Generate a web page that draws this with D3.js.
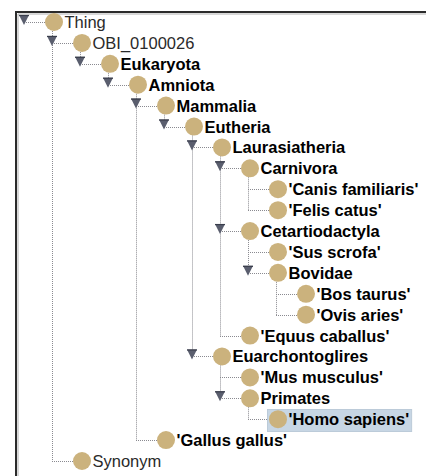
<!DOCTYPE html>
<html><head><meta charset="utf-8">
<script src="https://cdn.jsdelivr.net/npm/d3@7"></script>
<style>html,body{margin:0;padding:0;background:#fff;}svg{display:block;}</style>
</head><body>
<svg id="c" width="426" height="476"></svg>
<script>
const names = ["Thing","OBI_0100026","Eukaryota","Amniota","Mammalia","Eutheria","Laurasiatheria","Carnivora","'Canis familiaris'","'Felis catus'","Cetartiodactyla","'Sus scrofa'","Bovidae","'Bos taurus'","'Ovis aries'","'Equus caballus'","Euarchontoglires","'Mus musculus'","Primates","'Homo sapiens'","'Gallus gallus'","Synonym"];
const parents = ["","Thing","OBI_0100026","Eukaryota","Amniota","Mammalia","Eutheria","Laurasiatheria","Carnivora","Carnivora","Laurasiatheria","Cetartiodactyla","Cetartiodactyla","Bovidae","Bovidae","Laurasiatheria","Eutheria","Euarchontoglires","Euarchontoglires","Primates","Amniota","Thing"];
const regularNames = ["Thing","OBI_0100026","Synonym"];
const selectedName = "'Homo sapiens'";

const rows = names.map((n,i)=>({id:n, parent:parents[i]||null}));
const root = d3.stratify().id(d=>d.id).parentId(d=>d.parent)(rows);
const order = [];
root.eachBefore(d=>order.push(d));
order.forEach((d,i)=>d.row=i);

const y = d3.scaleLinear().domain([0, order.length-1]).range([22, 461]);
const x = d3.scaleLinear().domain([0, 8]).range([54, 278]);
const handleOff = 30, r = 9;

const svg = d3.select("#c");
// frame
svg.append("path").attr("d","M16,476V12H426").attr("fill","none").attr("stroke","#2b2b2b").attr("stroke-width",2);
svg.append("path").attr("d","M18,476V14H426").attr("fill","none").attr("stroke","#b0b0b0").attr("stroke-width",1);

const lines = svg.append("g").attr("stroke","#8a8a90").attr("stroke-width",1).attr("stroke-dasharray","1,1").attr("fill","none");
// vertical connectors
order.forEach(d=>{
  if(d.children){
    const last = d.children[d.children.length-1];
    const lx = Math.round(x(d.depth+1)-handleOff)+0.5;
    lines.append("line").attr("x1",lx).attr("x2",lx).attr("y1",y(d.row)+9).attr("y2",Math.round(y(last.row))+0.5);
  }
});
// horizontal connectors
order.forEach(d=>{
  const yy = Math.round(y(d.row))+0.5;
  lines.append("line").attr("x1",x(d.depth)-handleOff).attr("x2",x(d.depth)-r).attr("y1",yy).attr("y2",yy);
});

// selection highlight
const sel = order.find(d=>d.id===selectedName);
const hl = svg.append("rect").attr("fill","#c7d6e4").attr("stroke","#bccbd9");

// triangles
svg.append("g").selectAll("path").data(order.filter(d=>d.children)).join("path")
  .attr("d",d=>{const cx=x(d.depth)-handleOff, cy=y(d.row); return `M${cx-5},${cy-7}H${cx+5}L${cx},${cy+3}Z`;})
  .attr("fill","#5a5e6e");
svg.append("g").selectAll("line").data(order.filter(d=>d.children)).join("line")
  .attr("x1",d=>x(d.depth)-handleOff-5).attr("x2",d=>x(d.depth)-handleOff+5)
  .attr("y1",d=>y(d.row)-6.5).attr("y2",d=>y(d.row)-6.5).attr("stroke","#3a3e4c").attr("stroke-width",1.2);

// circles
svg.append("g").selectAll("circle").data(order).join("circle")
  .attr("cx",d=>x(d.depth)).attr("cy",d=>y(d.row)).attr("r",r).attr("fill","#cbb27d");

// labels
const texts = svg.append("g").selectAll("text").data(order).join("text")
  .attr("x",d=>x(d.depth)+r+1.5).attr("y",d=>y(d.row)+6)
  .attr("font-family","'Liberation Sans', Arial, sans-serif").attr("font-size",16.5)
  .attr("font-weight",d=>regularNames.includes(d.id)?"normal":"bold")
  .attr("fill",d=>regularNames.includes(d.id)?"#2a2a2a":"#000")
  .text(d=>d.id);

const selText = texts.filter(d=>d===sel).node();
const tw = selText.getComputedTextLength();
hl.attr("x",x(sel.depth)-r-2+0.5).attr("y",Math.round(y(sel.row))-10+0.5)
  .attr("width",(r+1.5+tw+2)+(r+2)).attr("height",22);
</script>
</body></html>
